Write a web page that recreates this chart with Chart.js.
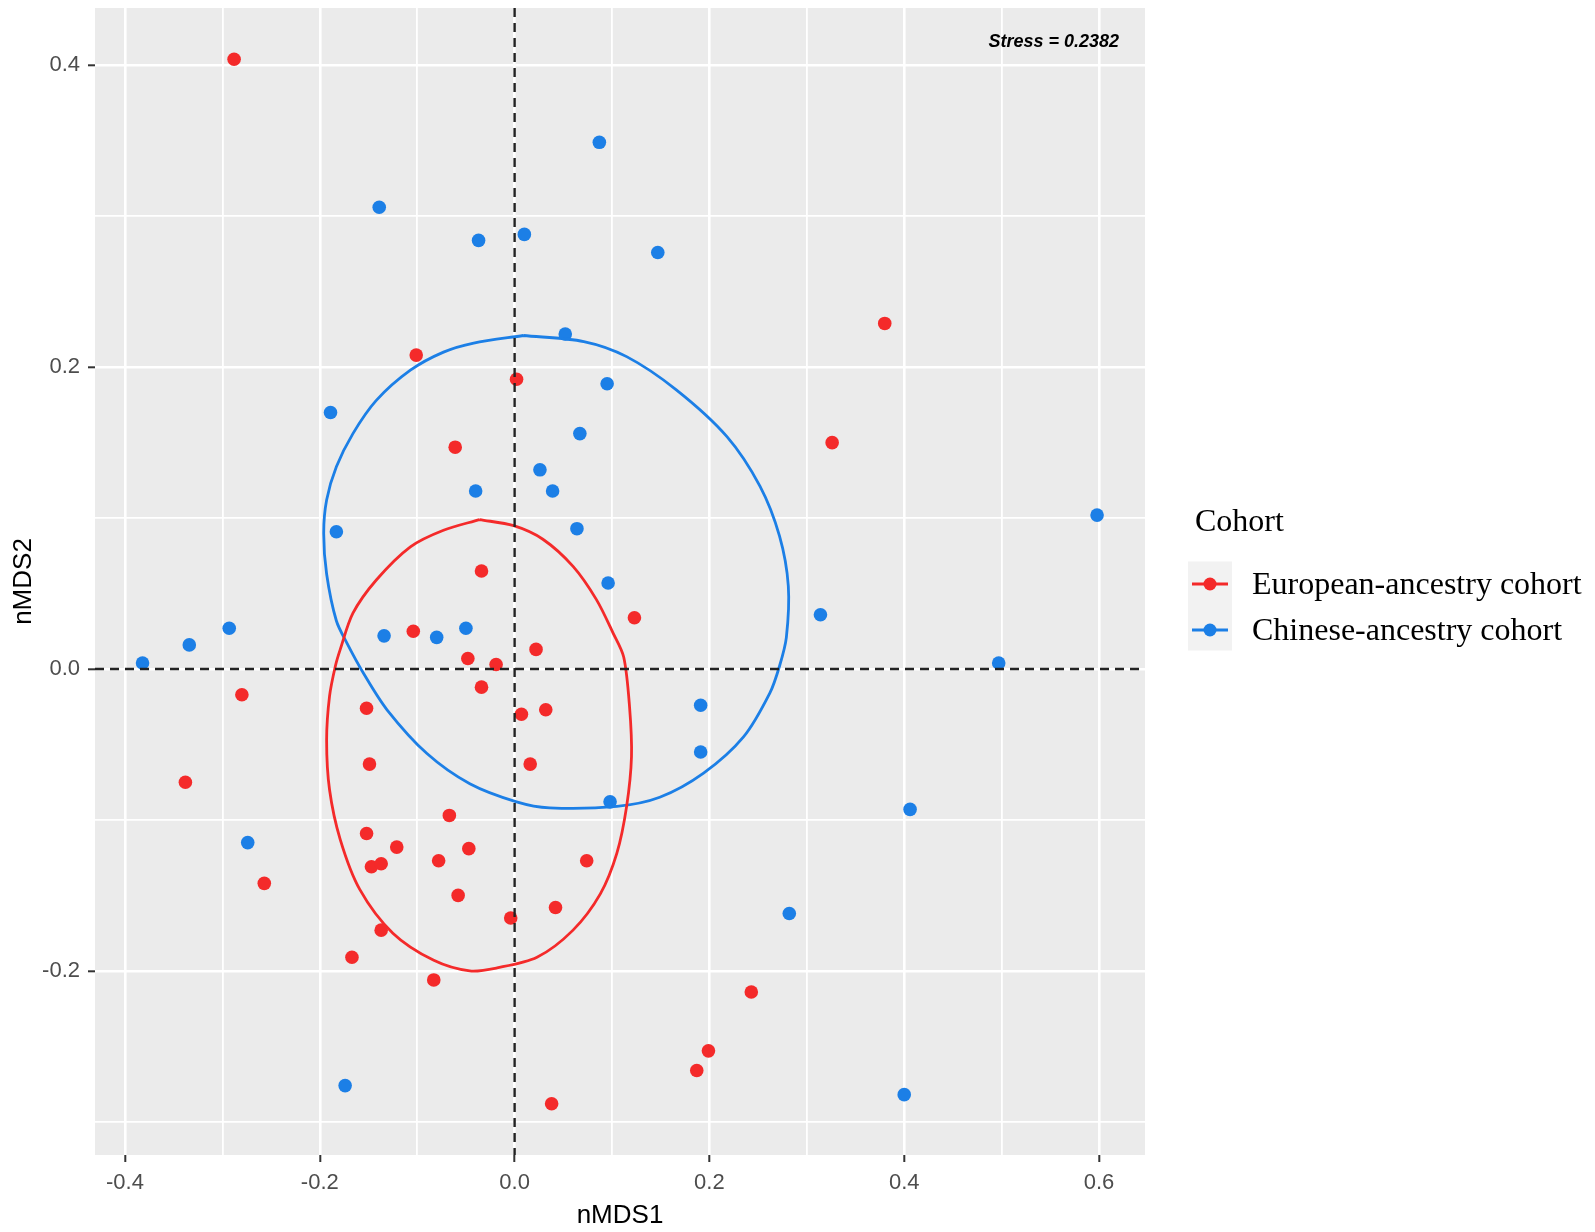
<!DOCTYPE html>
<html>
<head>
<meta charset="utf-8">
<script src="https://cdn.jsdelivr.net/npm/chart.js@4.4.1/dist/chart.umd.min.js"></script>
<style>
	html, body { margin: 0; padding: 0; background: #ffffff; }
	#wrap { width: 1595px; height: 1232px; }
</style>
</head>
<body>
<div id="wrap"><canvas id="nmdsChart" width="1595" height="1232"></canvas></div>
<script>
	const seriesLabels = ['European-ancestry cohort', 'Chinese-ancestry cohort'];
	const seriesColors = ['#F42A2A', '#1C7FE6'];
	const stressLabel = 'Stress = 0.2382';

	const xTicks = [-0.4, -0.3, -0.2, -0.1, 0.0, 0.1, 0.2, 0.3, 0.4, 0.5, 0.6];
	const yTicks = [-0.3, -0.2, -0.1, 0.0, 0.1, 0.2, 0.3, 0.4];
	const xRange = [-0.4308, 0.6472];
	const yRange = [-0.322, 0.438];

	// European-ancestry samples
	const europeanX = [-0.288, -0.101, 0.002, 0.380, 0.326, -0.061, -0.034, 0.123, -0.104, 0.022,
		-0.048, -0.019, -0.034, -0.280, 0.007, 0.032, -0.152, 0.016, -0.149, -0.338,
		-0.067, -0.152, -0.121, -0.047, -0.147, -0.137, -0.078, 0.074, -0.257, -0.058,
		0.042, -0.004, -0.137, -0.167, -0.083, 0.243, 0.199, 0.187, 0.038];
	const europeanY = [0.404, 0.208, 0.192, 0.229, 0.150, 0.147, 0.065, 0.034, 0.025, 0.013,
		0.007, 0.003, -0.012, -0.017, -0.030, -0.027, -0.026, -0.063, -0.063, -0.075,
		-0.097, -0.109, -0.118, -0.119, -0.131, -0.129, -0.127, -0.127, -0.142, -0.150,
		-0.158, -0.165, -0.173, -0.191, -0.206, -0.214, -0.253, -0.266, -0.288];

	// Chinese-ancestry samples
	const chineseX = [0.087, -0.139, -0.037, 0.010, 0.147, 0.052, 0.095, -0.189, 0.067, 0.026,
		0.039, -0.040, 0.064, -0.183, 0.598, 0.096, 0.314, -0.293, -0.050, -0.334,
		-0.134, -0.080, -0.382, 0.497, 0.191, 0.191, 0.098, 0.406, -0.274, 0.282,
		-0.174, 0.400];
	const chineseY = [0.349, 0.306, 0.284, 0.288, 0.276, 0.222, 0.189, 0.170, 0.156, 0.132,
		0.118, 0.118, 0.093, 0.091, 0.102, 0.057, 0.036, 0.027, 0.027, 0.016,
		0.022, 0.021, 0.004, 0.004, -0.024, -0.055, -0.088, -0.093, -0.115, -0.162,
		-0.276, -0.282];

	// ellipse outlines, clockwise from the top
	const europeanEllipseX = [-0.036, -0.001, 0.029, 0.060, 0.084, 0.101, 0.112, 0.118, 0.120, 0.115,
		0.105, 0.088, 0.060, 0.023, -0.018, -0.046, -0.083, -0.125, -0.159, -0.179,
		-0.190, -0.193, -0.190, -0.184, -0.179, -0.166, -0.142, -0.107, -0.073, -0.036];
	const europeanEllipseY = [0.099, 0.095, 0.086, 0.068, 0.046, 0.024, 0.008, -0.025, -0.058, -0.091,
		-0.122, -0.149, -0.173, -0.191, -0.198, -0.200, -0.193, -0.175, -0.146, -0.113,
		-0.080, -0.047, -0.018, 0.002, 0.013, 0.037, 0.059, 0.081, 0.092, 0.099];
	const chineseEllipseX = [0.009, 0.071, 0.115, 0.166, 0.218, 0.252, 0.272, 0.281, 0.279, 0.272,
		0.262, 0.235, 0.194, 0.149, 0.105, 0.036, 0.002, -0.046, -0.090, -0.131,
		-0.155, -0.172, -0.183, -0.193, -0.196, -0.193, -0.183, -0.166, -0.142, -0.107,
		-0.073, -0.042, 0.009];
	const chineseEllipseY = [0.221, 0.217, 0.207, 0.185, 0.154, 0.121, 0.088, 0.055, 0.021, 0.002,
		-0.016, -0.045, -0.069, -0.085, -0.091, -0.092, -0.088, -0.076, -0.056, -0.027,
		-0.003, 0.017, 0.032, 0.063, 0.090, 0.112, 0.134, 0.156, 0.178, 0.198,
		0.210, 0.216, 0.221];

	function toPoints(xs, ys) {
		return xs.map((x, i) => ({ x: x, y: ys[i] }));
	}

	function isMajor(value) {
		return Math.abs(Math.round(value * 10) % 2) === 0;
	}

	function tickLabel(value) {
		if (!isMajor(value)) {
			return '';
		}
		const rounded = Math.round(value * 10) / 10;
		return (rounded === 0 ? 0 : rounded).toFixed(1);
	}

	const gridOptions = {
		color: '#ffffff',
		lineWidth: (ctx) => (ctx.tick && isMajor(ctx.tick.value) ? 2.6 : 1.8),
		drawTicks: true,
		tickLength: 7,
		tickWidth: 2,
		tickColor: (ctx) => (ctx.tick && isMajor(ctx.tick.value) ? '#333333' : 'rgba(0,0,0,0)')
	};

	const tickFont = { family: '"Liberation Sans", Arial, sans-serif', size: 22 };
	const titleFont = { family: '"Liberation Sans", Arial, sans-serif', size: 26 };

	const panelPlugin = {
		id: 'panel',
		beforeDraw(chart) {
			const { ctx, chartArea } = chart;
			ctx.save();
			ctx.fillStyle = '#EBEBEB';
			ctx.fillRect(chartArea.left, chartArea.top, chartArea.right - chartArea.left, chartArea.bottom - chartArea.top);
			ctx.restore();
		}
	};

	const zeroLinesPlugin = {
		id: 'zeroLines',
		afterDatasetsDraw(chart) {
			const { ctx, chartArea, scales } = chart;
			const x0 = scales.x.getPixelForValue(0);
			const y0 = scales.y.getPixelForValue(0);
			ctx.save();
			ctx.beginPath();
			ctx.rect(chartArea.left, chartArea.top, chartArea.right - chartArea.left, chartArea.bottom - chartArea.top);
			ctx.clip();
			ctx.strokeStyle = '#222222';
			ctx.lineWidth = 2.4;
			ctx.setLineDash([9, 6]);
			ctx.beginPath();
			ctx.moveTo(chartArea.left, y0);
			ctx.lineTo(chartArea.right, y0);
			ctx.moveTo(x0, chartArea.top);
			ctx.lineTo(x0, chartArea.bottom);
			ctx.stroke();
			ctx.restore();
		}
	};

	const annotationPlugin = {
		id: 'annotation',
		afterDraw(chart) {
			const { ctx, chartArea } = chart;
			ctx.save();
			ctx.font = 'italic bold 18px "Liberation Sans", Arial, sans-serif';
			ctx.fillStyle = '#000000';
			ctx.textAlign = 'right';
			ctx.textBaseline = 'middle';
			ctx.fillText(stressLabel, chartArea.right - 26, chartArea.top + 34);
			ctx.restore();
		}
	};

	const cohortLegendPlugin = {
		id: 'cohortLegend',
		afterDraw(chart) {
			const { ctx, chartArea } = chart;
			const left = chartArea.right;
			const mid = (chartArea.top + chartArea.bottom) / 2 + 3;
			ctx.save();
			ctx.fillStyle = '#000000';
			ctx.textAlign = 'left';
			ctx.textBaseline = 'middle';
			ctx.font = '32px "Liberation Serif", "Times New Roman", serif';
			ctx.fillText('Cohort', left + 50, mid - 62);

			ctx.fillStyle = '#F2F2F2';
			ctx.fillRect(left + 43, mid - 23, 44, 89);

			seriesLabels.forEach((label, i) => {
				const y = mid - 0.5 + i * 46;
				ctx.strokeStyle = seriesColors[i];
				ctx.lineWidth = 3;
				ctx.setLineDash([]);
				ctx.beginPath();
				ctx.moveTo(left + 47, y);
				ctx.lineTo(left + 83, y);
				ctx.stroke();
				ctx.fillStyle = seriesColors[i];
				ctx.beginPath();
				ctx.arc(left + 65, y, 6.5, 0, Math.PI * 2);
				ctx.fill();
				ctx.fillStyle = '#000000';
				ctx.fillText(label, left + 107, y + 2);
			});
			ctx.restore();
		}
	};

	const nmdsChart = new Chart(document.getElementById('nmdsChart'), {
		type: 'scatter',
		data: {
			datasets: [
				{
					label: seriesLabels[0] + ' ellipse',
					data: toPoints(europeanEllipseX, europeanEllipseY),
					showLine: true,
					borderColor: seriesColors[0],
					borderWidth: 2.8,
					pointRadius: 0,
					tension: 0.3,
					fill: false
				},
				{
					label: seriesLabels[1] + ' ellipse',
					data: toPoints(chineseEllipseX, chineseEllipseY),
					showLine: true,
					borderColor: seriesColors[1],
					borderWidth: 2.8,
					pointRadius: 0,
					tension: 0.3,
					fill: false
				},
				{
					label: seriesLabels[0],
					data: toPoints(europeanX, europeanY),
					backgroundColor: seriesColors[0],
					borderWidth: 0,
					pointRadius: 6.8
				},
				{
					label: seriesLabels[1],
					data: toPoints(chineseX, chineseY),
					backgroundColor: seriesColors[1],
					borderWidth: 0,
					pointRadius: 6.8
				}
			]
		},
		options: {
			responsive: false,
			animation: false,
			devicePixelRatio: 1,
			layout: {
				padding: { left: 0, top: 8, right: 450, bottom: 0 }
			},
			plugins: {
				legend: { display: false },
				tooltip: { enabled: false }
			},
			scales: {
				x: {
					type: 'linear',
					min: xRange[0],
					max: xRange[1],
					afterBuildTicks: (scale) => { scale.ticks = xTicks.map((v) => ({ value: v })); },
					afterFit: (scale) => {
						scale.height = 77;
						scale.paddingLeft = 0;
						scale.paddingRight = 0;
					},
					border: { display: false },
					grid: gridOptions,
					ticks: {
						autoSkip: false,
						maxRotation: 0,
						padding: 8,
						color: '#4D4D4D',
						font: tickFont,
						callback: tickLabel
					},
					title: {
						display: true,
						text: 'nMDS1',
						color: '#000000',
						font: titleFont,
						padding: { top: 0, bottom: 1 }
					}
				},
				y: {
					type: 'linear',
					min: yRange[0],
					max: yRange[1],
					afterBuildTicks: (scale) => { scale.ticks = yTicks.map((v) => ({ value: v })); },
					afterFit: (scale) => {
						scale.width = 95;
						scale.paddingTop = 0;
						scale.paddingBottom = 0;
					},
					border: { display: false },
					grid: gridOptions,
					ticks: {
						autoSkip: false,
						padding: 8,
						color: '#4D4D4D',
						font: tickFont,
						callback: tickLabel
					},
					title: {
						display: true,
						text: 'nMDS2',
						color: '#000000',
						font: titleFont,
						padding: { top: 8, bottom: 0 }
					}
				}
			}
		},
		plugins: [panelPlugin, zeroLinesPlugin, annotationPlugin, cohortLegendPlugin]
	});
</script>
</body>
</html>
